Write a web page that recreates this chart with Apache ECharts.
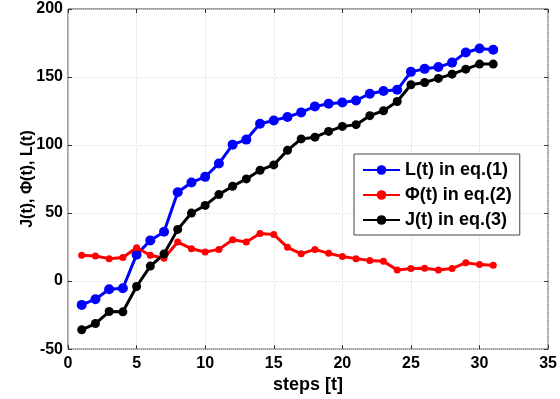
<!DOCTYPE html>
<html>
<head>
<meta charset="utf-8">
<script src="https://cdn.jsdelivr.net/npm/echarts@6/dist/echarts.min.js"></script>
<style>
  html, body { margin: 0; padding: 0; background: #fff; }
  #chart { width: 560px; height: 399px; }
</style>
</head>
<body>
<div id="chart"></div>
<script>
// steps 1..31
const steps = [1, 2, 3, 4, 5, 6, 7, 8, 9, 10, 11, 12, 13, 14, 15, 16, 17, 18, 19, 20, 21, 22, 23, 24, 25, 26, 27, 28, 29, 30, 31];
// L(t) in eq.(1)
const lValues = [-17.5, -13.3, -6, -5.3, 19.4, 29.9, 36.3, 65.3, 72.5, 76.6, 86.4, 100.3, 104, 115.7, 118.1, 120.6, 124, 128.4, 130.4, 131.3, 132.8, 137.7, 139.7, 140.6, 153.8, 156, 157.3, 160.6, 168, 171, 170];
// Φ(t) in eq.(2)
const phiValues = [18.9, 18.5, 16.5, 17.4, 24.5, 19, 16.8, 28.7, 23.8, 21.4, 23.3, 30.4, 28.7, 35, 34.3, 24.8, 20, 23.3, 20.4, 18, 16.5, 15.2, 14.5, 8.2, 9.2, 9.4, 8.2, 9.2, 13.5, 12.1, 11.6];
// J(t) in eq.(3)
const jValues = [-35.8, -31.2, -22.4, -22.6, -4, 11, 19.9, 38, 50, 55.6, 63.6, 69.7, 75.1, 81.5, 85.4, 96.1, 104.5, 105.8, 110, 113.7, 115, 121.6, 125.2, 132, 144.3, 146, 149, 152.1, 155.8, 159.5, 159.5];

const font = 'Liberation Sans, Arial, sans-serif';
const pair = (vals) => steps.map((s, i) => [s, vals[i]]);
const tick = { inside: true, length: 4, lineStyle: { color: '#333' } };

const chart = echarts.init(document.getElementById('chart'));
const option = {
  animation: false,
  textStyle: { fontFamily: font },
  grid: { left: 68, right: 11, top: 9, bottom: 49, show: true, borderColor: '#444', borderWidth: 1 },
  legend: {
    orient: 'vertical',
    left: 354,
    top: 154,
    backgroundColor: '#fff',
    borderColor: '#444',
    borderWidth: 1,
    padding: [7, 8, 6, 8],
    itemGap: 7,
    itemWidth: 37,
    itemHeight: 12,
    textStyle: { fontFamily: font, fontWeight: 'bold', fontSize: 18, color: '#000' },
    data: ['L(t) in eq.(1)', 'Φ(t) in eq.(2)', 'J(t) in eq.(3)']
  },
  xAxis: [{
    type: 'value', min: 0, max: 35, interval: 5,
    name: 'steps [t]', nameLocation: 'middle', nameGap: 21,
    nameTextStyle: { fontFamily: font, fontWeight: 'bold', fontSize: 18, color: '#000' },
    axisLine: { show: false, onZero: false },
    axisTick: tick,
    axisLabel: { fontFamily: font, fontWeight: 'bold', fontSize: 16, color: '#000', margin: 6 },
    splitLine: { show: true, lineStyle: { color: '#ddd', type: 'dotted' } }
  }, {
    type: 'value', min: 0, max: 35, interval: 5, position: 'top',
    axisLine: { show: false, onZero: false }, axisLabel: { show: false },
    axisTick: tick,
    splitLine: { show: false }
  }],
  yAxis: [{
    type: 'value', min: -50, max: 200, interval: 50,
    name: 'J(t), Φ(t), L(t)', nameLocation: 'middle', nameGap: 32, nameMoveOverlap: false,
    nameTextStyle: { fontFamily: font, fontWeight: 'bold', fontSize: 16, color: '#000' },
    axisLine: { show: false, onZero: false },
    axisTick: tick,
    axisLabel: { fontFamily: font, fontWeight: 'bold', fontSize: 16, color: '#000', margin: 5 },
    splitLine: { show: true, lineStyle: { color: '#ddd', type: 'dotted' } }
  }, {
    type: 'value', min: -50, max: 200, interval: 50, position: 'right',
    axisLine: { show: false, onZero: false }, axisLabel: { show: false },
    axisTick: tick,
    splitLine: { show: false }
  }],
  series: [
    {
      name: 'L(t) in eq.(1)', type: 'line', data: pair(lValues),
      color: '#0000ff', lineStyle: { width: 3 },
      symbol: 'circle', symbolSize: 10, itemStyle: { color: '#0000ff' }
    },
    {
      name: 'Φ(t) in eq.(2)', type: 'line', data: pair(phiValues),
      color: '#ff0000', lineStyle: { width: 3 },
      symbol: 'circle', symbolSize: 7, itemStyle: { color: '#ff0000' }
    },
    {
      name: 'J(t) in eq.(3)', type: 'line', data: pair(jValues),
      color: '#000', lineStyle: { width: 3 },
      symbol: 'circle', symbolSize: 9, itemStyle: { color: '#000' }
    }
  ]
};
chart.setOption(option);
</script>
</body>
</html>
